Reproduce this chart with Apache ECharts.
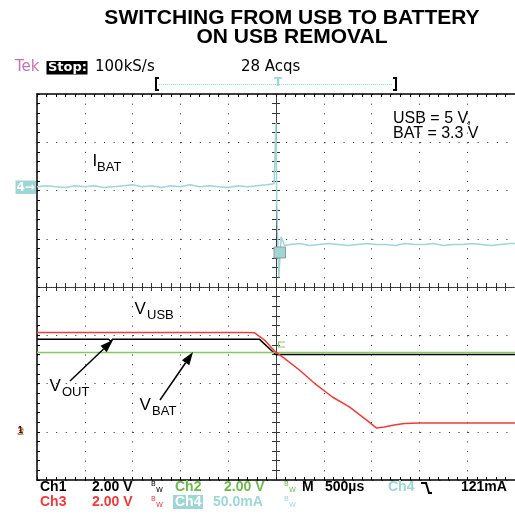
<!DOCTYPE html>
<html>
<head>
<meta charset="utf-8">
<script src="https://cdn.jsdelivr.net/npm/echarts@6.0.0/dist/echarts.min.js"></script>
<style>
  html, body { margin: 0; padding: 0; background: #fff; }
  #scope { width: 515px; height: 516px; }
</style>
</head>
<body>
<div id="scope"></div>
<script>
// time axis: 500 us/div, trigger at centre
var tMin = -2500, tMax = 2500, tStep = 500;
var divMin = -4, divMax = 4;

// Ch4 (I_BAT), mA, 50 mA/div, ground marker 2.08 div above centre
var ibatTime = [-2500, -2400, -2300, -2200, -2100, -2000, -1900, -1800, -1700, -1600, -1500, -1400, -1300,
  -1200, -1100, -1000, -900, -800, -700, -600, -500, -400, -300, -200, -100, -20,
  -8, 0, 8, 29, 54, 89,
  150, 250, 350, 450, 550, 650, 750, 850, 950, 1050, 1150, 1250, 1350, 1450, 1550, 1650, 1750,
  1850, 1950, 2050, 2150, 2250, 2350, 2450, 2500];
var ibatMA = [0, 1, 0, -1, 1, 0, 1, -1, 0, 1, 2, 0, 1,
  -1, 1, 0, 2, 0, 1, 0, -1, 1, 0, 1, 2, 3,
  4, 66, -17, -94, -52, -61,
  -60, -59, -61, -60, -59, -60, -61, -60, -59, -60, -60, -61, -59, -60, -60, -59, -61,
  -60, -60, -59, -60, -61, -60, -59, -59];

// Ch1 (V_OUT), volts
var voutTime = [-2500, -2300, -2280, -2260, -2000, -1980, -1960, -1750, -1730, -1710, -1500, -1480, -1460,
  -1100, -1080, -1060, -700, -680, -660, -300, -280, -260, -172, 0, 60, 1500, 1520, 1540, 2500];
var voutV = [3.83, 3.83, 3.75, 3.83, 3.83, 3.75, 3.83, 3.83, 3.74, 3.83, 3.83, 3.75, 3.83,
  3.83, 3.75, 3.83, 3.83, 3.75, 3.83, 3.83, 3.76, 3.83, 3.83, 3.19, 3.20, 3.20, 3.16, 3.20, 3.20];

// Ch2 (V_BAT), volts
var vbatTime = [-2500, -2450, -2440, -2430, -2090, -2080, -2070, -1560, -1550, -1540, -880, -870, -860,
  -440, -430, -420, 270, 280, 290, 1070, 1080, 1090, 1770, 1780, 1790, 2290, 2300, 2310, 2500];
var vbatV = [3.28, 3.28, 3.34, 3.28, 3.28, 3.34, 3.28, 3.28, 3.34, 3.28, 3.28, 3.34, 3.28,
  3.28, 3.34, 3.28, 3.28, 3.34, 3.28, 3.28, 3.34, 3.28, 3.28, 3.34, 3.28, 3.28, 3.34, 3.28, 3.28];

// Ch3 (V_USB), volts
var vusbTime = [-2500, -2440, -2430, -2420, -2090, -2080, -2070, -1840, -1830, -1820, -1490, -1480, -1470,
  -1270, -1260, -1250, -930, -920, -910, -690, -680, -670, -310, -300, -290,
  -224, -120, -5, 68, 245, 423, 590, 767, 945, 1049, 1133, 1237, 1342, 1498,
  1700, 1710, 1720, 2000, 2010, 2020, 2300, 2310, 2320, 2500];
var vusbV = [4.11, 4.11, 4.19, 4.11, 4.11, 4.19, 4.11, 4.11, 4.19, 4.11, 4.11, 4.19, 4.11,
  4.11, 4.19, 4.11, 4.11, 4.19, 4.11, 4.11, 4.19, 4.11, 4.11, 4.19, 4.11,
  4.10, 3.80, 3.31, 3.10, 2.56, 1.94, 1.44, 1.03, 0.49, 0.16, 0.20, 0.28, 0.34, 0.36,
  0.36, 0.41, 0.36, 0.36, 0.41, 0.36, 0.36, 0.41, 0.36, 0.36];

// channel scale (units per div) and ground position (div)
var voltPerDiv = 2, voltGround = -3;
var ampPerDiv = 50, ampGround = 2.08;

var cyan = '#9ed6d6', red = '#f03a3a', green = '#86c866', black = '#000';
var scopeFont = 'DejaVu Sans';
var readFont = 'Liberation Sans, Arial, sans-serif';
var labelFont = 'Liberation Sans, Arial, sans-serif';

function toDiv(ts, vs, perDiv, ground) {
  return ts.map(function (t, i) { return [t, vs[i] / perDiv + ground]; });
}

function trace(name, data, color, z) {
  return {
    name: name, type: 'line', data: data, symbol: 'none', showSymbol: false,
    lineStyle: { color: color, width: 1.5 }, itemStyle: { color: color },
    z: z, silent: true, animation: false
  };
}

function txt(x, y, text, size, color, extra) {
  var style = {
    text: text, fontSize: size, fontFamily: scopeFont, fill: color || black,
    align: 'left', verticalAlign: 'middle'
  };
  for (var k in extra) style[k] = extra[k];
  return { type: 'text', x: x, y: y, z: 100, style: style };
}

// bottom readout text
function rd(x, y, text, color) {
  return txt(x, y, text, 14, color, { fontFamily: readFont, fontWeight: 'bold' });
}

function box(x, y, w, h, fill, stroke) {
  return { type: 'rect', z: 99, shape: { x: x, y: y, width: w, height: h },
    style: { fill: fill, stroke: stroke || null, lineWidth: 1 } };
}

function poly(points, color, width) {
  return { type: 'polyline', z: 100, shape: { points: points },
    style: { stroke: color, lineWidth: width || 1.5, fill: null } };
}

function arrow(x1, y1, x2, y2) {
  var dx = x2 - x1, dy = y2 - y1, L = Math.sqrt(dx * dx + dy * dy);
  var ux = dx / L, uy = dy / L, hl = 13, hw = 4.5;
  var bx = x2 - ux * hl, by = y2 - uy * hl;
  return [
    { type: 'line', z: 100, shape: { x1: x1, y1: y1, x2: bx, y2: by }, style: { stroke: black, lineWidth: 1.5 } },
    { type: 'polygon', z: 100, shape: { points: [[x2, y2], [bx - uy * hw, by + ux * hw], [bx + uy * hw, by - ux * hw]] },
      style: { fill: black } }
  ];
}

function bw(x, y, color) {
  return [txt(x, y - 3, 'B', 7, color), txt(x + 5, y + 3, 'W', 7, color)];
}

function sub(x, y, main, s, x2) {
  return [
    txt(x, y, main, 17, black, { fontFamily: labelFont }),
    txt(x2, y + 6, s, 13, black, { fontFamily: labelFont })
  ];
}

var graphics = [
  { type: 'text', x: 292, y: 9, z: 100, style: {
    text: 'SWITCHING FROM USB TO BATTERY\nON USB REMOVAL', fontSize: 21, fontWeight: 'bold',
    fontFamily: labelFont, fill: black, align: 'center', verticalAlign: 'top', lineHeight: 19 } },

  // header line
  txt(15, 67.5, 'Tek', 15, '#c474b4'),
  box(46.5, 61, 41, 13.5, black),
  txt(48, 67.5, 'Stop:', 13, '#fff', { fontWeight: 'bold' }),
  txt(95, 67.5, '100kS/s', 15, black),
  txt(241, 67.5, '28 Acqs', 15, black),
  poly([[159, 78], [156, 78], [156, 90], [159, 90]], black, 2),
  poly([[393, 78], [396, 78], [396, 90], [393, 90]], black, 2),
  { type: 'line', z: 99, shape: { x1: 159, y1: 84.5, x2: 393, y2: 84.5 }, style: { stroke: cyan, lineWidth: 1, lineDash: [1, 1] } },
  txt(278, 82.5, 'T', 12, cyan, { align: 'center', fontWeight: 'bold' }),

  // channel markers
  box(15.5, 180.5, 20.5, 13.5, cyan),
  txt(16.5, 187.5, '4\u2192', 12, '#fff', { fontWeight: 'bold' }),
  box(274, 247, 11.5, 11, cyan, '#999'),
  poly([[285, 342], [278.5, 342], [278.5, 347], [285, 347]], green, 1.2),
  txt(17, 432, '3', 10, red, { fontWeight: 'bold' }),
  txt(19, 433, '2', 9, green),
  txt(18, 431, '1', 8, black),

  // annotations
  txt(393, 118.5, 'USB = 5 V,', 16, black, { fontFamily: labelFont }),
  txt(393, 133.5, 'BAT = 3.3 V', 16, black, { fontFamily: labelFont })
]
  .concat(sub(92.5, 161, 'I', 'BAT', 97))
  .concat(sub(134.5, 309, 'V', 'USB', 147))
  .concat(sub(49.5, 386, 'V', 'OUT', 62))
  .concat(sub(139.5, 405, 'V', 'BAT', 152))
  .concat(arrow(70, 381, 113, 340))
  .concat(arrow(160, 400, 193, 352))
  .concat([
    // bottom readout
    rd(40, 487.5, 'Ch1', black),
    rd(92, 487.5, '2.00 V', black),
    rd(175, 487.5, 'Ch2', '#6fb84e'),
    rd(224, 487.5, '2.00 V', '#6fb84e'),
    rd(302, 487.5, 'M', black),
    rd(325, 487.5, '500\u00b5s', black),
    rd(388, 487.5, 'Ch4', cyan),
    poly([[421, 483], [426, 483], [429, 493], [432, 493]], black, 2),
    rd(461, 487.5, '121mA', black),
    rd(40, 502, 'Ch3', red),
    rd(92, 502, '2.00 V', red),
    box(173, 495, 30, 14, cyan),
    rd(175, 502, 'Ch4', '#fff'),
    rd(213, 502, '50.0mA', cyan)
  ])
  .concat(bw(151, 487, black)).concat(bw(284, 487, '#6fb84e'))
  .concat(bw(151, 502, red)).concat(bw(284, 502, cyan));

var dotColor = '#222';

function borderAxis(pos, split, dash) {
  var isY = pos === 'left' || pos === 'right';
  return {
    type: 'value', min: isY ? divMin : tMin, max: isY ? divMax : tMax,
    interval: isY ? 1 : tStep,
    position: pos,
    axisLine: { onZero: false, lineStyle: { color: black, width: 1.5 } },
    axisTick: { inside: true, length: 3, lineStyle: { color: black } },
    minorTick: { show: true, splitNumber: 5, length: 3, lineStyle: { color: black } },
    axisLabel: { show: false },
    splitLine: { show: split, lineStyle: { color: dotColor, width: 1, type: dash } }
  };
}

function centreAxis(pos, inside, isY) {
  return {
    type: 'value', min: isY ? divMin : tMin, max: isY ? divMax : tMax, interval: isY ? 1 : tStep,
    position: pos,
    axisLine: { onZero: true, onZeroAxisIndex: 0, lineStyle: { color: '#333', width: 1, type: [1, 1] } },
    axisTick: { inside: inside, length: 4, lineStyle: { color: '#333' } },
    minorTick: { show: true, splitNumber: 5, length: 4, lineStyle: { color: '#333' } },
    axisLabel: { show: false },
    splitLine: { show: false }
  };
}

var chart = echarts.init(document.getElementById('scope'));
chart.setOption({
  animation: false,
  grid: { left: 37, top: 94, width: 478, height: 386, show: false },
  xAxis: [
    borderAxis('bottom', true, [1, 8.65]),
    borderAxis('top', false),
    centreAxis('bottom', true, false),
    centreAxis('bottom', false, false)
  ],
  yAxis: [
    borderAxis('left', true, [1, 8.58]),
    centreAxis('left', true, true),
    centreAxis('left', false, true)
  ],
  series: [
    trace('Ch4 IBAT', toDiv(ibatTime, ibatMA, ampPerDiv, ampGround), cyan, 3),
    trace('Ch1 VOUT', toDiv(voutTime, voutV, voltPerDiv, voltGround), black, 4),
    trace('Ch2 VBAT', toDiv(vbatTime, vbatV, voltPerDiv, voltGround), green, 5),
    trace('Ch3 VUSB', toDiv(vusbTime, vusbV, voltPerDiv, voltGround), red, 6)
  ],
  graphic: graphics
});
window.onresize = function () {
  chart.resize();
};
</script>
</body>
</html>
